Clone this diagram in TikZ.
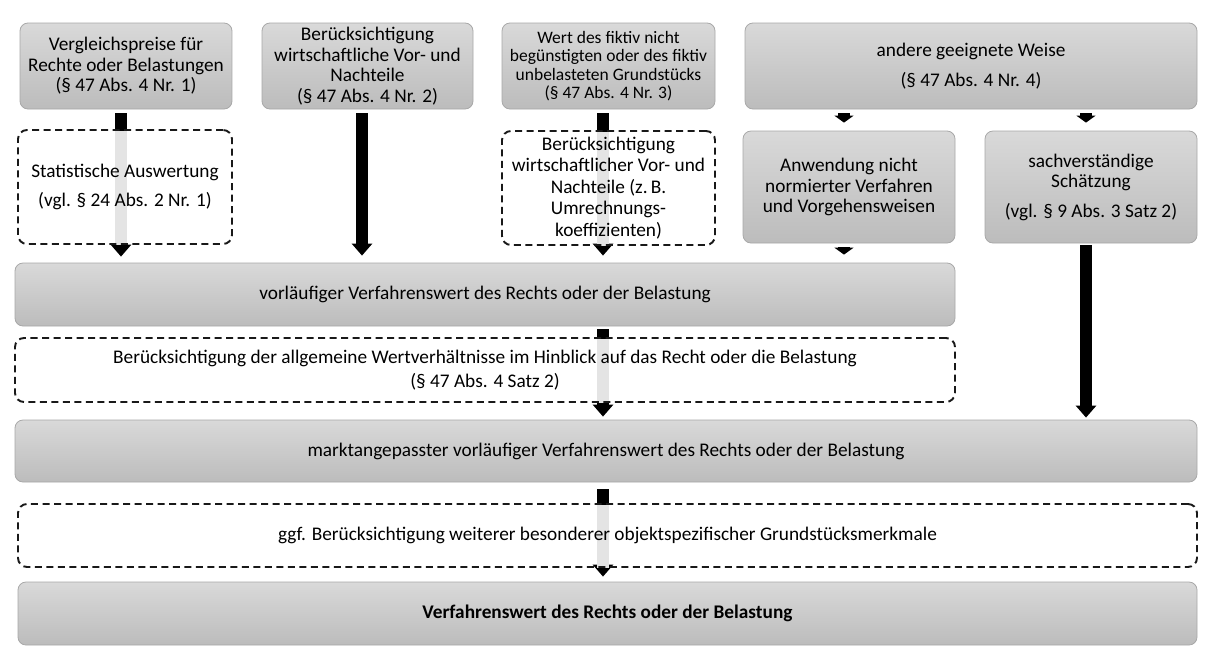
\documentclass[tikz,border=0pt]{standalone}
\usepackage{fontspec}
\setmainfont{Carlito}
\usetikzlibrary{arrows.meta}
\definecolor{boxtop}{HTML}{D9D9D9}
\definecolor{boxbot}{HTML}{BCBCBC}
\definecolor{boxline}{HTML}{A8A8A8}
\definecolor{shaftgrey}{HTML}{E4E4E4}
\pgfdeclarelayer{bottomlayer}
\pgfdeclarelayer{arrowlayer}
\pgfsetlayers{bottomlayer,arrowlayer,main}
\begin{document}
\begin{tikzpicture}[x=1pt,y=-1pt,
  solidbox/.style={rectangle, rounded corners=8pt, top color=boxtop, bottom color=boxbot,
    draw=boxline, line width=0.8pt, inner sep=0pt, align=center,
    font=\fontsize{19.3}{20.5}\selectfont},
  dashbox/.style={rectangle, rounded corners=9pt, draw=black!90, line width=1.9pt,
    dash pattern=on 7pt off 4.5pt, inner sep=0pt, align=center,
    font=\fontsize{19.3}{21.5}\selectfont},
  fat/.style={line width=12pt, black, -{Triangle[length=12pt 0, width=20pt 0]}},
  fatsmall/.style={line width=12pt, black, -{Triangle[length=7pt 0, width=19pt 0]}},
  greyshaft/.style={line width=12pt, shaftgrey, shorten <=2pt},
]
\begin{pgfonlayer}{bottomlayer}
\fill[white] (0,0) rectangle (1209,670);
\end{pgfonlayer}
\useasboundingbox (0,0) rectangle (1209,670);

% top row
\node[solidbox, minimum width=212pt, minimum height=86pt] (A) at (126,66)
  {Vergleichspreise für\\Rechte oder Belastungen\\(§ 47 Abs. 4 Nr. 1)};
\node[solidbox, minimum width=211pt, minimum height=86pt] (B) at (367.5,66)
  {Berücksichtigung\\wirtschaftliche Vor- und\\Nachteile\\(§ 47 Abs. 4 Nr. 2)};
\node[solidbox, minimum width=213pt, minimum height=86pt,
  font=\fontsize{17.5}{18.5}\selectfont] (C) at (608.5,66)
  {Wert des fiktiv nicht\\begünstigten oder des fiktiv\\unbelasteten Grundstücks\\(§ 47 Abs. 4 Nr. 3)};
\node[solidbox, minimum width=452pt, minimum height=86pt] (D) at (971,66)
  {andere geeignete Weise\\[10pt](§ 47 Abs. 4 Nr. 4)};

% second row
\node[dashbox, minimum width=214pt, minimum height=114pt] (dA) at (125,187)
  {Statistische Auswertung\\[7pt](vgl. § 24 Abs. 2 Nr. 1)};
\node[dashbox, minimum width=213pt, minimum height=114pt] (dC) at (608.5,188)
  {Berücksichtigung\\wirtschaftlicher Vor- und\\Nachteile (z.\,B.\\Umrechnungs-\\koeffizienten)};
\node[solidbox, minimum width=212pt, minimum height=112pt] (E) at (849,187)
  {Anwendung nicht\\normierter Verfahren\\und Vorgehensweisen};
\node[solidbox, minimum width=212pt, minimum height=112pt] (F) at (1091,187)
  {sachverständige\\Schätzung\\[9pt](vgl. § 9 Abs. 3 Satz 2)};

% lower rows
\node[solidbox, minimum width=940pt, minimum height=63pt] (V1) at (485,294.5)
  {vorläufiger Verfahrenswert des Rechts oder der Belastung};
\node[dashbox, minimum width=940pt, minimum height=64pt,
  font=\fontsize{19.3}{20.5}\selectfont] (dV) at (485,370)
  {Berücksichtigung der allgemeine Wertverhältnisse im Hinblick auf das Recht oder die Belastung\\[4pt](§ 47 Abs. 4 Satz 2)};
\node[solidbox, minimum width=1182pt, minimum height=62pt] (M) at (606,451)
  {marktangepasster vorläufiger Verfahrenswert des Rechts oder der Belastung};
\node[dashbox, minimum width=1179pt, minimum height=63pt] (dG) at (607.5,535.5)
  {ggf. Berücksichtigung weiterer besonderer objektspezifischer Grundstücksmerkmale};
\node[solidbox, minimum width=1179pt, minimum height=63pt] (R) at (607.5,613.5)
  {\textbf{Verfahrenswert des Rechts oder der Belastung}};

% arrow columns
\coordinate (xA) at (121,0);
\coordinate (xB) at (362,0);
\coordinate (xC) at (603,0);
\coordinate (xE) at (844,0);
\coordinate (xF) at (1086,0);

\begin{pgfonlayer}{arrowlayer}
\draw[fat, shorten <=4pt, shorten >=6pt] (xA |- A.south) -- (xA |- V1.north);
\draw[greyshaft] (xA |- dA.north) -- (xA |- dA.south);
\draw[fat, shorten <=4pt, shorten >=7pt] (xB |- B.south) -- (xB |- V1.north);
\draw[fat, shorten <=4pt, shorten >=7pt] (xC |- C.south) -- (xC |- V1.north);
\draw[greyshaft] (xC |- dC.north) -- (xC |- dC.south);
\draw[fatsmall, shorten <=4pt, shorten >=8pt] (xE |- D.south) -- (xE |- E.north);
\draw[fatsmall, shorten <=4pt, shorten >=8pt] (xF |- D.south) -- (xF |- F.north);
\draw[fatsmall, shorten <=4pt, shorten >=8pt] (xE |- E.south) -- (xE |- V1.north);
\draw[fat, shorten <=2pt, shorten >=2pt] (xF |- F.south) -- (xF |- M.north);
\draw[fat, shorten <=3pt, shorten >=3pt] (xC |- V1.south) -- (xC |- M.north);
\draw[greyshaft] (xC |- dV.north) -- (xC |- dV.south);
\draw[fat, shorten <=7pt, shorten >=5pt] (xC |- M.south) -- (xC |- R.north);
\draw[greyshaft] (xC |- dG.north) -- (xC |- dG.south);
\end{pgfonlayer}
\end{tikzpicture}
\end{document}
